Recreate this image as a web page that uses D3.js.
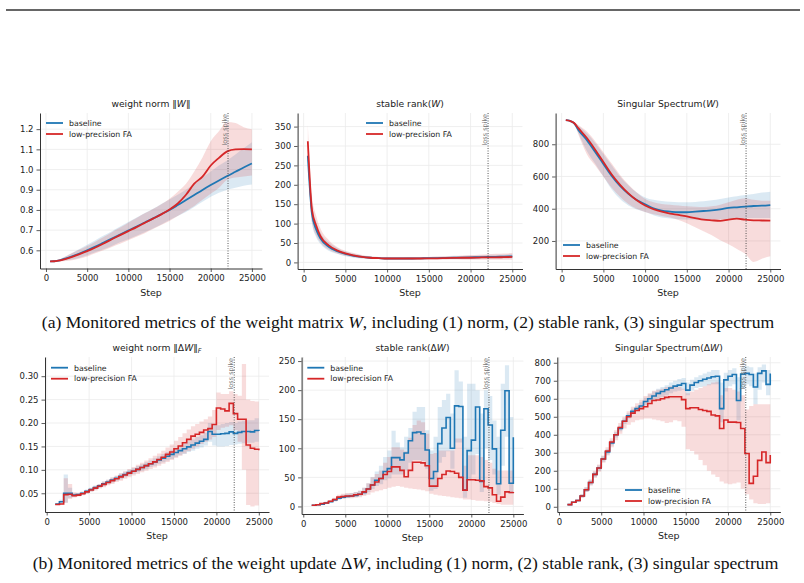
<!DOCTYPE html>
<html>
<head>
<meta charset="utf-8">
<title>Monitored metrics</title>
<script src="https://d3js.org/d3.v7.min.js"></script>
<style>
  body { margin: 0; background: #fff; }
  svg text { font-family: "DejaVu Sans", sans-serif; }
</style>
</head>
<body>
<div id="chart"></div>
<script>
// ---- data ----
const seriesNames = ["baseline", "low-precision FA"];
const xTickValues = [0, 5000, 10000, 15000, 20000, 25000];
const spikeStep = 22100;

// top row: steps where W metrics were logged
const stepsW = [500, 1000, 1500, 2000, 3000, 4000, 5000, 6000, 7000, 8000, 9000, 10000, 11000, 12000, 13000,
  14000, 15000, 16000, 17000, 18000, 19000, 20000, 21000, 22000, 23000, 24000, 25000];

// weight norm ||W||
const normBase   = [0.545, 0.546, 0.549, 0.555, 0.568, 0.583, 0.600, 0.618, 0.638, 0.658, 0.678, 0.698, 0.718, 0.738, 0.758, 0.779, 0.800, 0.824, 0.849, 0.874, 0.899, 0.923, 0.946, 0.968, 0.989, 1.010, 1.030];
const normBaseLo = [0.545, 0.545, 0.545, 0.548, 0.553, 0.562, 0.575, 0.590, 0.605, 0.622, 0.640, 0.655, 0.672, 0.690, 0.708, 0.728, 0.750, 0.770, 0.790, 0.815, 0.840, 0.865, 0.885, 0.900, 0.910, 0.920, 0.926];
const normBaseHi = [0.545, 0.547, 0.553, 0.562, 0.583, 0.605, 0.627, 0.650, 0.673, 0.695, 0.718, 0.740, 0.762, 0.785, 0.806, 0.830, 0.852, 0.875, 0.900, 0.930, 0.960, 0.990, 1.020, 1.045, 1.075, 1.105, 1.135];
const normLP     = [0.545, 0.546, 0.549, 0.553, 0.565, 0.580, 0.596, 0.614, 0.634, 0.655, 0.675, 0.695, 0.715, 0.736, 0.757, 0.778, 0.802, 0.832, 0.875, 0.930, 0.965, 1.020, 1.058, 1.090, 1.100, 1.101, 1.100];
const normLPLo   = [0.545, 0.545, 0.545, 0.546, 0.550, 0.558, 0.570, 0.585, 0.600, 0.617, 0.633, 0.650, 0.667, 0.685, 0.705, 0.725, 0.745, 0.770, 0.795, 0.820, 0.850, 0.880, 0.910, 0.950, 0.960, 0.965, 0.970];
const normLPHi   = [0.545, 0.547, 0.553, 0.562, 0.583, 0.603, 0.622, 0.643, 0.666, 0.690, 0.713, 0.737, 0.760, 0.783, 0.805, 0.828, 0.855, 0.890, 0.930, 0.990, 1.060, 1.140, 1.190, 1.235, 1.230, 1.210, 1.200];

// stable rank(W)
const rankBase   = [275, 125, 85, 62, 40, 29, 22, 17, 14, 12, 11, 10, 10, 10, 10, 10.5, 11, 11, 11.5, 12, 12.5, 13, 13.5, 14, 14.5, 15, 15.5];
const rankBaseLo = [275, 100, 65, 48, 30, 22, 16, 12, 10, 9, 8.5, 8, 8, 8, 8, 8, 8, 8, 8, 8.5, 8.5, 9, 9, 9.5, 10, 10, 10.5];
const rankBaseHi = [275, 150, 105, 78, 52, 38, 28, 22, 18, 15, 14, 13, 12.5, 12.5, 13, 13, 14, 14.5, 15, 16, 16.5, 17, 18, 19, 19.5, 20, 21];
const rankLP     = [312, 135, 95, 68, 44, 31, 23, 18, 14, 12, 11, 10, 10, 10, 10, 10, 10.5, 10.5, 11, 11.5, 12, 12, 12.5, 13, 13, 13.5, 14];
const rankLPLo   = [270, 105, 70, 52, 33, 23, 17, 13, 10.5, 9, 8.5, 8, 8, 8, 7.5, 7.5, 7.5, 7.5, 7.5, 7.5, 7, 7, 7, 7, 7, 7, 7];
const rankLPHi   = [355, 170, 120, 88, 58, 40, 30, 24, 19, 16, 14, 13, 12.5, 12.5, 13, 13.5, 14, 15, 16, 17, 18, 19, 20, 21, 22, 23, 24];

// singular spectrum(W)
const specBase   = [950, 945, 930, 889, 827, 754, 678, 603, 541, 492, 454, 428, 403, 388, 382, 378, 378, 382, 386, 390, 396, 405, 409, 413, 417, 419, 423];
const specBaseLo = [950, 945, 930, 870, 760, 680, 600, 520, 460, 420, 395, 380, 360, 345, 340, 335, 333, 332, 332, 333, 335, 338, 340, 342, 343, 343, 343];
const specBaseHi = [950, 945, 935, 915, 870, 810, 740, 670, 600, 545, 500, 470, 455, 448, 443, 440, 440, 442, 446, 452, 460, 470, 478, 485, 492, 500, 506];
const specLP     = [950, 945, 932, 900, 840, 768, 690, 612, 548, 495, 452, 420, 398, 382, 370, 362, 352, 342, 332, 328, 325, 333, 338, 332, 328, 327, 326];
const specLPLo   = [950, 940, 925, 860, 740, 670, 600, 530, 475, 430, 400, 380, 365, 355, 345, 330, 310, 285, 260, 235, 205, 180, 150, 120, 70, 90, 105];
const specLPHi   = [950, 945, 935, 920, 880, 820, 750, 680, 610, 550, 500, 460, 440, 430, 425, 420, 415, 412, 410, 415, 425, 440, 455, 465, 455, 450, 450];

// bottom row: steps where dW metrics were logged
const stepsDW = [1000, 1500, 2000, 2500, 3000, 3500, 4000, 4500, 5000, 5500, 6000, 6500, 7000, 7500, 8000, 8500,
  9000, 9500, 10000, 10500, 11000, 11500, 12000, 12500, 13000, 13500, 14000, 14500, 15000, 15500, 16000, 16500,
  17000, 17500, 18000, 18500, 19000, 19500, 20000, 20500, 21000, 21500, 22000, 22500, 23000, 23500, 24000, 24500, 25000];

// weight norm ||dW||_F
const dNormBase   = [0.027, 0.032, 0.050, 0.050, 0.046, 0.047, 0.050, 0.054, 0.058, 0.062, 0.066, 0.070, 0.074, 0.078, 0.082, 0.086, 0.090, 0.094, 0.097, 0.101, 0.105, 0.109, 0.113, 0.117, 0.121, 0.125, 0.129, 0.133, 0.137, 0.141, 0.145, 0.149, 0.153, 0.157, 0.161, 0.165, 0.182, 0.176, 0.176, 0.177, 0.178, 0.181, 0.178, 0.180, 0.182, 0.182, 0.181, 0.184, 0.183];
const dNormBaseLo = [0.027, 0.028, 0.030, 0.040, 0.042, 0.044, 0.047, 0.050, 0.054, 0.058, 0.062, 0.065, 0.069, 0.073, 0.077, 0.080, 0.084, 0.088, 0.091, 0.095, 0.098, 0.102, 0.106, 0.109, 0.113, 0.116, 0.120, 0.123, 0.127, 0.131, 0.134, 0.138, 0.141, 0.145, 0.148, 0.152, 0.160, 0.152, 0.150, 0.150, 0.151, 0.153, 0.154, 0.156, 0.157, 0.158, 0.158, 0.160, 0.160];
const dNormBaseHi = [0.027, 0.036, 0.090, 0.062, 0.050, 0.050, 0.053, 0.058, 0.062, 0.066, 0.070, 0.075, 0.079, 0.083, 0.087, 0.092, 0.096, 0.100, 0.104, 0.108, 0.112, 0.116, 0.120, 0.125, 0.129, 0.134, 0.138, 0.143, 0.147, 0.152, 0.156, 0.161, 0.165, 0.170, 0.174, 0.179, 0.200, 0.195, 0.195, 0.198, 0.200, 0.202, 0.200, 0.203, 0.205, 0.206, 0.206, 0.210, 0.210];
const dNormLP     = [0.026, 0.027, 0.047, 0.048, 0.045, 0.046, 0.049, 0.053, 0.057, 0.061, 0.065, 0.069, 0.073, 0.077, 0.081, 0.085, 0.089, 0.093, 0.097, 0.101, 0.105, 0.109, 0.113, 0.117, 0.122, 0.127, 0.133, 0.138, 0.145, 0.151, 0.158, 0.165, 0.172, 0.176, 0.180, 0.185, 0.188, 0.197, 0.232, 0.230, 0.226, 0.242, 0.220, 0.208, 0.208, 0.153, 0.146, 0.144, 0.142];
const dNormLPLo   = [0.026, 0.026, 0.030, 0.038, 0.041, 0.043, 0.046, 0.049, 0.053, 0.056, 0.060, 0.063, 0.067, 0.070, 0.074, 0.077, 0.081, 0.084, 0.088, 0.091, 0.095, 0.098, 0.102, 0.105, 0.109, 0.113, 0.117, 0.121, 0.126, 0.130, 0.135, 0.140, 0.145, 0.150, 0.155, 0.160, 0.165, 0.170, 0.185, 0.190, 0.192, 0.195, 0.185, 0.160, 0.100, 0.025, 0.022, 0.024, 0.030];
const dNormLPHi   = [0.026, 0.028, 0.082, 0.070, 0.052, 0.051, 0.053, 0.057, 0.061, 0.066, 0.070, 0.075, 0.079, 0.084, 0.088, 0.093, 0.097, 0.102, 0.106, 0.111, 0.115, 0.120, 0.125, 0.130, 0.135, 0.141, 0.148, 0.154, 0.162, 0.170, 0.178, 0.186, 0.193, 0.198, 0.203, 0.208, 0.214, 0.228, 0.265, 0.262, 0.262, 0.268, 0.262, 0.258, 0.326, 0.250, 0.247, 0.246, 0.245];

// stable rank(dW)
const dRankBase   = [2, 3, 4, 6, 8, 11, 14, 16, 17, 18, 19, 21, 24, 30, 37, 45, 48, 60, 65, 84, 84, 80, 92, 113, 127, 128, 125, 97, 48, 60, 108, 135, 153, 100, 173, 172, 28, 96, 114, 171, 43, 168, 140, 99, 39, 131, 199, 40, 119];
const dRankBaseLo = [2, 3, 4, 5, 7, 9, 12, 14, 15, 16, 17, 18, 20, 25, 30, 35, 38, 45, 48, 55, 55, 55, 62, 75, 80, 80, 78, 65, 27, 30, 75, 85, 95, 65, 110, 110, 15, 45, 55, 90, 25, 100, 80, 55, 20, 70, 120, 22, 60];
const dRankBaseHi = [2, 4, 6, 8, 10, 14, 18, 20, 22, 23, 25, 27, 32, 40, 50, 60, 70, 85, 96, 130, 110, 102, 120, 135, 163, 171, 171, 131, 96, 120, 171, 183, 194, 160, 234, 215, 120, 211, 211, 200, 160, 200, 190, 148, 120, 211, 243, 154, 154];
const dRankLP     = [2, 3, 5, 6, 9, 12, 16, 17, 18, 18, 20, 21, 25, 30, 37, 42, 48, 55, 60, 68, 68, 62, 51, 62, 76, 76, 75, 70, 35, 35, 48, 55, 61, 60, 57, 50, 28, 46, 46, 45, 44, 34, 32, 20, 9, 16, 25, 24, 25];
const dRankLPLo   = [2, 2, 4, 5, 7, 9, 12, 13, 14, 14, 15, 16, 18, 20, 24, 26, 28, 30, 32, 34, 35, 34, 32, 31, 30, 29, 28, 26, 22, 20, 19, 18, 17, 16, 15, 14, 12, 12, 11, 10, 10, 9, 8, 6, 4, 3, 3, 3, 3];
const dRankLPHi   = [2, 4, 6, 8, 11, 15, 20, 22, 23, 23, 25, 27, 32, 40, 50, 56, 62, 75, 85, 102, 102, 98, 95, 118, 140, 148, 145, 125, 90, 92, 96, 96, 96, 96, 117, 117, 70, 88, 88, 88, 85, 80, 75, 65, 62, 62, 62, 62, 62];

// singular spectrum(dW)
const dSpecBase   = [12, 25, 35, 60, 95, 135, 180, 215, 265, 305, 355, 400, 435, 475, 505, 530, 545, 560, 585, 600, 615, 630, 640, 650, 660, 670, 676, 685, 648, 676, 690, 700, 708, 715, 722, 725, 545, 705, 725, 735, 590, 737, 741, 735, 665, 741, 755, 680, 740];
const dSpecBaseLo = [12, 22, 30, 50, 82, 120, 165, 200, 250, 290, 340, 385, 420, 460, 490, 515, 530, 545, 565, 580, 590, 600, 610, 620, 630, 640, 645, 650, 620, 645, 660, 665, 670, 675, 680, 680, 470, 640, 670, 680, 480, 660, 680, 670, 570, 650, 690, 620, 620];
const dSpecBaseHi = [12, 28, 40, 70, 108, 150, 195, 230, 280, 320, 370, 415, 450, 490, 520, 545, 560, 580, 605, 625, 640, 655, 665, 675, 690, 700, 710, 715, 690, 705, 720, 730, 740, 750, 760, 760, 690, 745, 760, 770, 720, 775, 780, 775, 740, 775, 790, 760, 780];
const dSpecLP     = [12, 25, 35, 60, 95, 135, 180, 215, 265, 310, 360, 400, 440, 475, 500, 520, 535, 545, 556, 574, 590, 593, 600, 608, 611, 611, 611, 595, 545, 550, 550, 540, 535, 530, 510, 505, 435, 482, 470, 470, 468, 435, 296, 130, 170, 258, 304, 245, 287];
const dSpecLPLo   = [12, 22, 30, 50, 82, 118, 160, 195, 245, 285, 330, 370, 405, 435, 455, 470, 480, 485, 490, 490, 485, 480, 475, 465, 470, 480, 475, 445, 320, 310, 290, 260, 230, 200, 180, 165, 140, 130, 125, 130, 135, 100, 70, 40, 20, 15, 15, 20, 25];
const dSpecLPHi   = [12, 28, 40, 70, 108, 152, 200, 235, 285, 330, 380, 425, 465, 500, 530, 555, 575, 595, 615, 630, 645, 650, 655, 665, 670, 670, 665, 655, 630, 640, 650, 660, 670, 680, 690, 695, 620, 660, 660, 650, 640, 620, 540, 560, 570, 570, 570, 570, 570];

const ticksNorm   = [0.6, 0.7, 0.8, 0.9, 1.0, 1.1, 1.2];
const ticksRank   = [0, 50, 100, 150, 200, 250, 300, 350];
const ticksSpec   = [200, 400, 600, 800];
const ticksDNorm  = [0.05, 0.10, 0.15, 0.20, 0.25, 0.30];
const ticksDRank  = [0, 50, 100, 150, 200, 250];
const ticksDSpec  = [0, 100, 200, 300, 400, 500, 600, 700, 800];

// ---- drawing ----
const colors = ["#1f77b4", "#d62728"];
const svg = d3.select("#chart").append("svg")
    .attr("width", 804).attr("height", 583)
    .style("background", "#fff");

// page rule at the top
svg.append("line").attr("x1", 6).attr("x2", 800).attr("y1", 10).attr("y2", 10)
    .attr("stroke", "#333").attr("stroke-width", 1.5);

function rich(sel, parts) {
    parts.forEach(p => {
        const t = sel.append("tspan").text(p[0]);
        if (p[1] === "i") t.attr("font-style", "italic");
        if (p[1] === "sub") t.attr("font-style", "italic").attr("font-size", "0.7em").attr("dy", "0.3em");
    });
}

const panels = [
  { box: [40, 262, 113, 268.5], xDom: [-725, 26225], yDom: [0.51, 1.28], xs: stepsW, step: false,
    yTicks: ticksNorm, yFmt: d3.format(".1f"),
    series: [[normBase, normBaseLo, normBaseHi], [normLP, normLPLo, normLPHi]],
    title: [["weight norm \u2016"], ["W", "i"], ["\u2016"]], legend: [46, 123] },
  { box: [297.6, 522.5, 113, 269], xDom: [-725, 26225], yDom: [-17, 385], xs: stepsW, step: false,
    yTicks: ticksRank, yFmt: d3.format("d"),
    series: [[rankBase, rankBaseLo, rankBaseHi], [rankLP, rankLPLo, rankLPHi]],
    title: [["stable rank("], ["W", "i"], [")"]], legend: [366, 123] },
  { box: [555.6, 780.5, 113, 269], xDom: [-725, 26225], yDom: [26, 994], xs: stepsW, step: false,
    yTicks: ticksSpec, yFmt: d3.format("d"),
    series: [[specBase, specBaseLo, specBaseHi], [specLP, specLPLo, specLPHi]],
    title: [["Singular Spectrum("], ["W", "i"], [")"]], legend: [563, 245] },
  { box: [45, 269, 357, 512], xDom: [-200, 26200], yDom: [0.010, 0.341], xs: stepsDW, step: true,
    yTicks: ticksDNorm, yFmt: d3.format(".2f"),
    series: [[dNormBase, dNormBaseLo, dNormBaseHi], [dNormLP, dNormLPLo, dNormLPHi]],
    title: [["weight norm \u2016\u0394"], ["W", "i"], ["\u2016"], ["F", "sub"]], legend: [51, 367.7] },
  { box: [301.6, 523.4, 357, 514], xDom: [-200, 26200], yDom: [-13, 257], xs: stepsDW, step: true,
    yTicks: ticksDRank, yFmt: d3.format("d"),
    series: [[dRankBase, dRankBaseLo, dRankBaseHi], [dRankLP, dRankLPLo, dRankLPHi]],
    title: [["stable rank(\u0394"], ["W", "i"], [")"]], legend: [307.3, 367.7] },
  { box: [557.3, 780.4, 357, 512], xDom: [-200, 26200], yDom: [-29, 832], xs: stepsDW, step: true,
    yTicks: ticksDSpec, yFmt: d3.format("d"),
    series: [[dSpecBase, dSpecBaseLo, dSpecBaseHi], [dSpecLP, dSpecLPLo, dSpecLPHi]],
    title: [["Singular Spectrum(\u0394"], ["W", "i"], [")"]], legend: [625, 490] }
];

panels.forEach(p => {
    const [l, r, t, b] = p.box;
    const x = d3.scaleLinear().domain(p.xDom).range([l, r]);
    const y = d3.scaleLinear().domain(p.yDom).range([b, t]);
    const g = svg.append("g");
    const curve = p.step ? d3.curveStepAfter : d3.curveMonotoneX;

    // grid
    g.selectAll(".gx").data(xTickValues).join("line")
        .attr("x1", d => x(d)).attr("x2", d => x(d)).attr("y1", t).attr("y2", b)
        .attr("stroke", "#ebebeb").attr("stroke-width", 0.8);
    g.selectAll(".gy").data(p.yTicks).join("line")
        .attr("x1", l).attr("x2", r).attr("y1", d => y(d)).attr("y2", d => y(d))
        .attr("stroke", "#ebebeb").attr("stroke-width", 0.8);

    // shaded bands
    p.series.forEach((s, k) => {
        const area = d3.area().curve(curve)
            .x((d, i) => x(p.xs[i]))
            .y0((d, i) => y(s[1][i]))
            .y1((d, i) => y(s[2][i]));
        g.append("path").datum(s[0]).attr("d", area)
            .attr("fill", colors[k]).attr("fill-opacity", 0.16);
    });

    // lines
    p.series.forEach((s, k) => {
        const line = d3.line().curve(curve)
            .x((d, i) => x(p.xs[i]))
            .y(d => y(d));
        g.append("path").datum(s[0]).attr("d", line)
            .attr("fill", "none").attr("stroke", colors[k])
            .attr("stroke-width", p.step ? 1.6 : 1.8);
    });

    // loss spike marker
    g.append("line").attr("x1", x(spikeStep)).attr("x2", x(spikeStep)).attr("y1", t).attr("y2", b)
        .attr("stroke", "#444").attr("stroke-width", 0.9).attr("stroke-dasharray", "1,1.5");
    g.append("text")
        .attr("transform", `translate(${x(spikeStep) - 1},${t + 1}) rotate(-90)`)
        .attr("text-anchor", "end").attr("font-size", 6.5).attr("fill", "#777")
        .text("loss spike");

    // axes
    const ax = g.append("g").attr("transform", `translate(0,${b})`)
        .call(d3.axisBottom(x).tickValues(xTickValues).tickFormat(d3.format("d"))
            .tickSizeInner(3.5).tickSizeOuter(0).tickPadding(3));
    const ay = g.append("g").attr("transform", `translate(${l},0)`)
        .call(d3.axisLeft(y).tickValues(p.yTicks).tickFormat(p.yFmt)
            .tickSizeInner(3.5).tickSizeOuter(0).tickPadding(3));
    [ax, ay].forEach(a => {
        a.select(".domain").attr("stroke", "#333").attr("stroke-width", 1);
        a.selectAll(".tick line").attr("stroke", "#333").attr("stroke-width", 0.8);
        a.selectAll(".tick text").attr("fill", "#222").attr("font-size", 8.5)
            .style("font-family", "DejaVu Sans");
    });

    // labels
    g.append("text").attr("x", (l + r) / 2).attr("y", b + 27)
        .attr("text-anchor", "middle").attr("font-size", 9.5).attr("fill", "#222").text("Step");
    const tt = g.append("text").attr("x", (l + r) / 2).attr("y", t - 6)
        .attr("text-anchor", "middle").attr("font-size", 9.2).attr("fill", "#222");
    rich(tt, p.title);

    // legend
    const lg = g.append("g").attr("transform", `translate(${p.legend[0]},${p.legend[1]})`);
    seriesNames.forEach((n, k) => {
        lg.append("line").attr("x1", 0).attr("x2", 17).attr("y1", k * 11).attr("y2", k * 11)
            .attr("stroke", colors[k]).attr("stroke-width", 1.8);
        lg.append("text").attr("x", 23).attr("y", k * 11 + 2.8)
            .attr("font-size", 7.8).attr("fill", "#222").text(n);
    });
});

// captions
function caption(xPos, yPos, parts) {
    const c = svg.append("text").attr("x", xPos).attr("y", yPos).attr("text-anchor", "middle")
        .attr("font-size", 17.6).attr("fill", "#111")
        .style("font-family", "'Liberation Serif', 'Times New Roman', serif");
    rich(c, parts);
}
caption(408, 328, [["(a) Monitored metrics of the weight matrix "], ["W", "i"],
    [", including (1) norm, (2) stable rank, (3) singular spectrum"]]);
caption(405.5, 569, [["(b) Monitored metrics of the weight update \u0394"], ["W", "i"],
    [", including (1) norm, (2) stable rank, (3) singular spectrum"]]);
</script>
</body>
</html>
